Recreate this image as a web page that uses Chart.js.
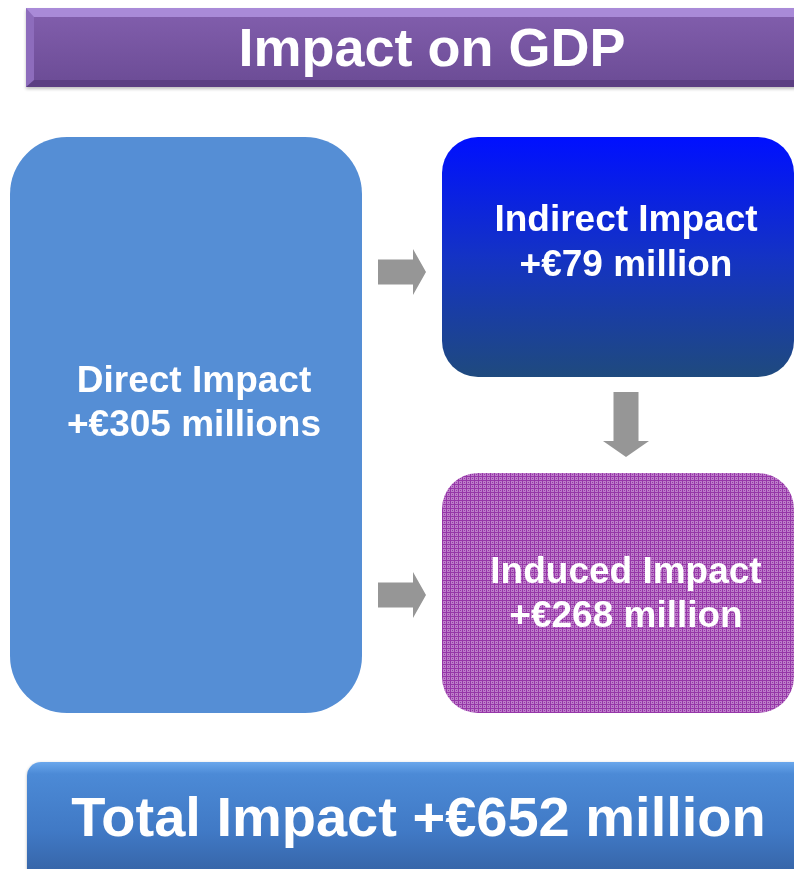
<!DOCTYPE html>
<html lang="en">
<head>
<meta charset="UTF-8">
<meta name="viewport" content="width=device-width, initial-scale=1.0">
<title>Impact on GDP</title>
<script src="https://cdn.jsdelivr.net/npm/chart.js"></script>
<style>
    * {
        margin: 0;
        padding: 0;
        box-sizing: border-box;
    }
    body {
        width: 794px;
        height: 869px;
        overflow: hidden;
        position: relative;
        background: #fff;
        font-family: "Liberation Sans", Arial, sans-serif;
    }
    /* the chart is a bit wider than the page so the two columns land where they should */
    .chart-box {
        position: absolute;
        left: -30px;
        top: 0;
        width: 864px;
        height: 869px;
    }
    /* purple banner with bevel */
    .banner {
        position: absolute;
        left: 26px;
        top: 8px;
        width: 790px;
        height: 79px;
        background: linear-gradient(#805dab, #6d4d97);
        border-top: 9px solid #a98ad8;
        border-left: 8px solid #8d6cbc;
        border-bottom: 7px solid #5b3e82;
        box-shadow: 0 2px 3px rgba(0, 0, 0, 0.25);
    }
    .banner-text {
        position: absolute;
        left: 0;
        top: 8px;
        width: 864px;
        height: 79px;
        line-height: 79px;
        text-align: center;
        color: #fff;
        font-weight: bold;
        font-size: 54px;
    }
    /* blue total bar */
    .total {
        position: absolute;
        left: 27px;
        top: 762px;
        width: 790px;
        height: 130px;
        border-radius: 14px;
        background: linear-gradient(#6aa7ec 0px, #4c8ad6 12px, #4079c5 70px, #3766aa 107px);
        box-shadow: 0 1px 3px rgba(0, 0, 0, 0.3);
    }
    .total-text {
        position: absolute;
        left: 0;
        top: 762px;
        width: 837px;
        height: 110px;
        line-height: 110px;
        text-align: center;
        color: #fff;
        font-weight: bold;
        font-size: 56px;
    }
</style>
</head>
<body>

<div class="chart-box">
    <canvas id="impactChart"></canvas>
</div>
<div class="banner"></div>
<div class="banner-text" id="title"></div>
<div class="total"></div>
<div class="total-text" id="total"></div>

<script>
    // data
    const chartTitle = 'Impact on GDP';
    const categories = ['Direct Impact', 'Indirect Impact', 'Induced Impact'];
    const impactValues = [305, 79, 268];
    const valueUnits = ['millions', 'million', 'million'];
    const totalLabel = 'Total Impact';
    const totalImpact = 652;

    // layout (y axis runs 0..869 top to bottom)
    const columns = ['left', 'right'];
    const boxColumn = ['left', 'right', 'right'];
    const boxSpans = [[137, 713], [137, 377], [473, 713]];
    const textLines = [[392, 436], [231, 276], [583, 627]];
    const arrowRows = [272, 595];   // right arrows into box 1 and 2
    const textShift = 8;

    document.getElementById('title').textContent = chartTitle;
    document.getElementById('total').textContent = totalLabel + ' +€' + totalImpact + ' million';

    // dotted fill for the induced box
    const dots = document.createElement('canvas');
    dots.width = 4;
    dots.height = 4;
    const dctx = dots.getContext('2d');
    dctx.fillStyle = '#bd7ec9';
    dctx.fillRect(0, 0, 4, 4);
    dctx.fillStyle = '#9636a8';
    dctx.fillRect(0, 0, 4, 1);
    dctx.fillRect(0, 0, 1, 4);
    dctx.fillRect(2, 2, 1, 1);

    function indirectFill(ctx) {
        const chart = ctx.chart;
        if (!chart.chartArea) return '#1030d0';
        const y = chart.scales.y;
        const g = chart.ctx.createLinearGradient(0, y.getPixelForValue(boxSpans[1][0]), 0, y.getPixelForValue(boxSpans[1][1]));
        g.addColorStop(0, '#0010ff');
        g.addColorStop(0.5, '#1433c4');
        g.addColorStop(1, '#1f4a7e');
        return g;
    }

    function inducedFill(ctx) {
        return ctx.chart.ctx.createPattern(dots, 'repeat');
    }

    const fills = ['#558ed5', indirectFill, inducedFill];
    const radii = [57, 36, 36];

    // grey block arrows
    function arrowRight(c, x0, x1, yc) {
        const shaft = 12.5, half = 23, headLen = 13;
        c.beginPath();
        c.moveTo(x0, yc - shaft);
        c.lineTo(x1 - headLen, yc - shaft);
        c.lineTo(x1 - headLen, yc - half);
        c.lineTo(x1, yc);
        c.lineTo(x1 - headLen, yc + half);
        c.lineTo(x1 - headLen, yc + shaft);
        c.lineTo(x0, yc + shaft);
        c.closePath();
        c.fill();
    }
    function arrowDown(c, xc, y0, y1) {
        const shaft = 12.5, half = 23, headLen = 16;
        c.beginPath();
        c.moveTo(xc - shaft, y0);
        c.lineTo(xc + shaft, y0);
        c.lineTo(xc + shaft, y1 - headLen);
        c.lineTo(xc + half, y1 - headLen);
        c.lineTo(xc, y1);
        c.lineTo(xc - half, y1 - headLen);
        c.lineTo(xc - shaft, y1 - headLen);
        c.closePath();
        c.fill();
    }

    const arrows = {
        id: 'arrows',
        afterDatasetsDraw(chart) {
            const c = chart.ctx;
            const y = chart.scales.y;
            const bars = categories.map((n, i) => chart.getDatasetMeta(i).data[0]);
            c.save();
            c.fillStyle = '#969696';
            const x0 = bars[0].x + bars[0].width / 2 + 16;
            arrowRows.forEach((row, k) => {
                const t = bars[k + 1];
                arrowRight(c, x0, t.x - t.width / 2 - 16, y.getPixelForValue(row));
            });
            const top = Math.max(bars[1].y, bars[1].base);
            const bottom = Math.min(bars[2].y, bars[2].base);
            arrowDown(c, bars[1].x + textShift, top + 15, bottom - 16);
            c.restore();
        }
    };

    const boxText = {
        id: 'boxText',
        afterDatasetsDraw(chart) {
            const c = chart.ctx;
            const y = chart.scales.y;
            c.save();
            c.fillStyle = '#fff';
            c.textAlign = 'center';
            c.textBaseline = 'alphabetic';
            c.font = 'bold 37px "Liberation Sans", Arial, sans-serif';
            categories.forEach((name, i) => {
                const bar = chart.getDatasetMeta(i).data[0];
                const x = bar.x + textShift;
                c.fillText(name, x, y.getPixelForValue(textLines[i][0]));
                c.fillText('+€' + impactValues[i] + ' ' + valueUnits[i], x, y.getPixelForValue(textLines[i][1]));
            });
            c.restore();
        }
    };

    const ctx = document.getElementById('impactChart').getContext('2d');
    const impactChart = new Chart(ctx, {
        type: 'bar',
        data: {
            labels: columns,
            datasets: categories.map((name, i) => ({
                label: name,
                data: [{ x: boxColumn[i], y: boxSpans[i] }],
                backgroundColor: fills[i],
                borderWidth: 0,
                borderSkipped: false,
                borderRadius: { topLeft: radii[i], topRight: radii[i], bottomLeft: radii[i], bottomRight: radii[i] },
                grouped: false,
                barPercentage: 1,
                categoryPercentage: 352 / 432
            }))
        },
        options: {
            responsive: true,
            maintainAspectRatio: false,
            animation: false,
            layout: { padding: 0 },
            plugins: {
                legend: { display: false },
                tooltip: { enabled: false }
            },
            scales: {
                x: { type: 'category', display: false },
                y: { min: 0, max: 869, reverse: true, display: false }
            }
        },
        plugins: [arrows, boxText]
    });
</script>
</body>
</html>
